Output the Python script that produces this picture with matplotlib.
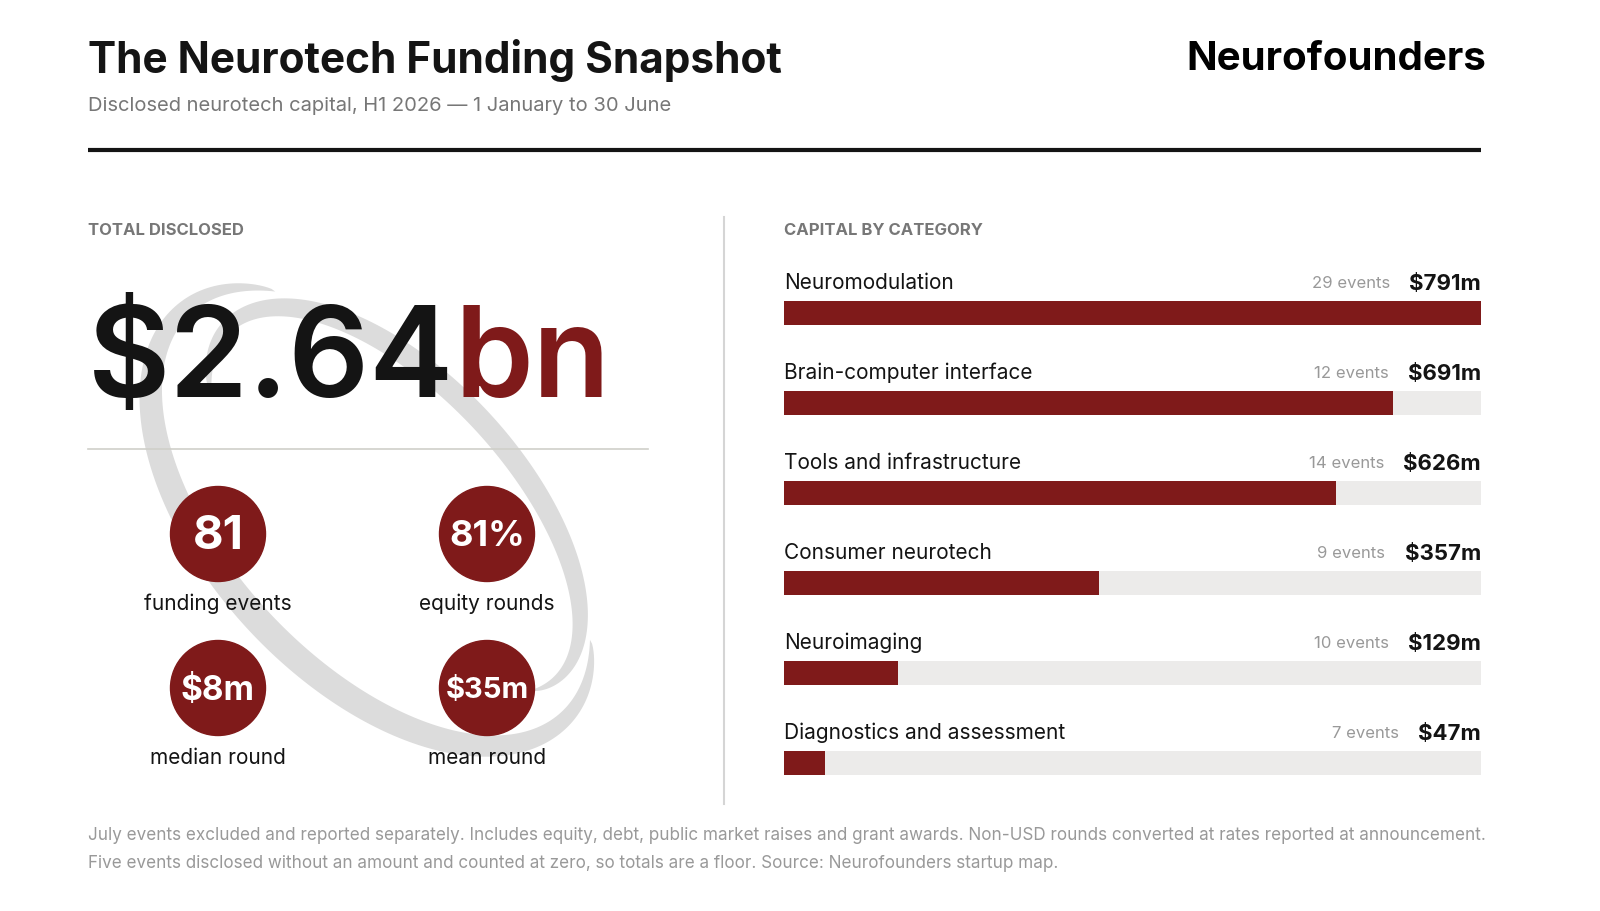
import numpy as np
import matplotlib.pyplot as plt
from matplotlib.patches import Circle, Rectangle, Polygon

plt.rcParams['font.family'] = ['Inter', 'DejaVu Sans']

categories = ["Neuromodulation", "Brain-computer interface", "Tools and infrastructure",
              "Consumer neurotech", "Neuroimaging", "Diagnostics and assessment"]
capital_m = [791, 691, 626, 357, 129, 47]
events = [29, 12, 14, 9, 10, 7]

stat_values = ["81", "81%", "$8m", "$35m"]
stat_labels = ["funding events", "equity rounds", "median round", "mean round"]

RED = "#7f1a1a"
DARK = "#141414"
GRAY = "#777777"

fig = plt.figure(figsize=(16, 9.12), dpi=100)
ax = fig.add_axes([0, 0, 1, 1])
ax.set_xlim(0, 1600)
ax.set_ylim(912, 0)
ax.axis("off")


def band(cx, cy, a, b, ang, t0, t1, wmax, z=0):
    # tapered ring segment along a rotated ellipse
    t = np.linspace(t0, t1, 200)
    c, s = np.cos(np.radians(ang)), np.sin(np.radians(ang))
    px, py = a * np.cos(t), b * np.sin(t)
    nx, ny = np.cos(t) / a, np.sin(t) / b
    nn = np.hypot(nx, ny)
    nx, ny = nx / nn, ny / nn
    w = wmax * np.sin(np.pi * (t - t0) / (t1 - t0)) ** 0.6
    ox, oy = px + w * nx, py + w * ny
    xs = np.concatenate([px, ox[::-1]])
    ys = np.concatenate([py, oy[::-1]])
    X = cx + xs * c - ys * s
    Y = cy + xs * s + ys * c
    ax.add_patch(Polygon(np.column_stack([X, Y]), closed=True, color="#dcdcdc", lw=0, zorder=z))


band(376, 514, 272, 146, 47, -0.5, 3.7, 27)
band(392, 506, 236, 112, 47, 2.6, 6.5, 22)

# header
ax.text(88, 60, "The Neurotech Funding Snapshot", fontsize=30.5, fontweight="bold", color=DARK, va="center")
ax.text(88, 106, "Disclosed neurotech capital, H1 2026 \u2014 1 January to 30 June", fontsize=14.5, color=GRAY, va="center")
ax.text(1486, 60, "Neurofounders", fontsize=29, fontweight="bold", color="black", va="center", ha="right")
ax.plot([88, 1481], [151, 151], color=DARK, lw=3, solid_capstyle="butt")
ax.plot([724, 724], [218, 805], color="#d5d5d5", lw=1.5)

# left panel
ax.text(88, 231, "TOTAL DISCLOSED", fontsize=12, fontweight="bold", color=GRAY, va="center")
t1 = ax.text(88, 397, "$2.64", fontsize=91, fontweight="semibold", color=DARK, va="baseline")
fig.canvas.draw()
bb = t1.get_window_extent()
x_end = bb.x1 * 1600 / fig.bbox.width
ax.text(x_end, 397, "bn", fontsize=91, fontweight="semibold", color=RED, va="baseline")
ax.plot([88, 648], [450, 450], color="#cfcfc9", lw=1.2)

centers = [(218, 535), (487, 535), (218, 689), (487, 689)]
sizes = [34, 26, 24, 21]
for (cx, cy), val, lab, fs in zip(centers, stat_values, stat_labels, sizes):
    ax.add_patch(Circle((cx, cy), 47.5, color=RED, zorder=3))
    ax.text(cx, cy + 2, val, fontsize=fs, fontweight="bold", color="white", ha="center", va="center", zorder=4)
    ax.text(cx, cy + 69, lab, fontsize=15, color=DARK, ha="center", va="center", zorder=4)

# right panel
ax.text(784, 231, "CAPITAL BY CATEGORY", fontsize=12, fontweight="bold", color=GRAY, va="center")
x0, x1 = 784, 1481
vmax = max(capital_m)
for i, (cat, val, ev) in enumerate(zip(categories, capital_m, events)):
    y = 283 + 90 * i
    ax.text(x0, y, cat, fontsize=15, color=DARK, va="center")
    tv = ax.text(x1, y + 1, f"${val}m", fontsize=16, fontweight="bold", color=DARK, va="center", ha="right")
    ax.annotate(f"{ev} events", xy=(0, 0.5), xycoords=tv, xytext=(-14, 0), textcoords="offset points",
                fontsize=12, color="#999999", va="center", ha="right")
    ax.add_patch(Rectangle((x0, y + 19), x1 - x0, 24, color="#ecebea", lw=0))
    ax.add_patch(Rectangle((x0, y + 19), (x1 - x0) * val / vmax, 24, color=RED, lw=0))

# footer
ax.text(88, 836, "July events excluded and reported separately. Includes equity, debt, public market raises and grant awards. "
        "Non-USD rounds converted at rates reported at announcement.", fontsize=12.3, color="#999999", va="center")
ax.text(88, 864, "Five events disclosed without an amount and counted at zero, so totals are a floor. "
        "Source: Neurofounders startup map.", fontsize=12.3, color="#999999", va="center")

fig.savefig("out.png", dpi=100, facecolor="white")
